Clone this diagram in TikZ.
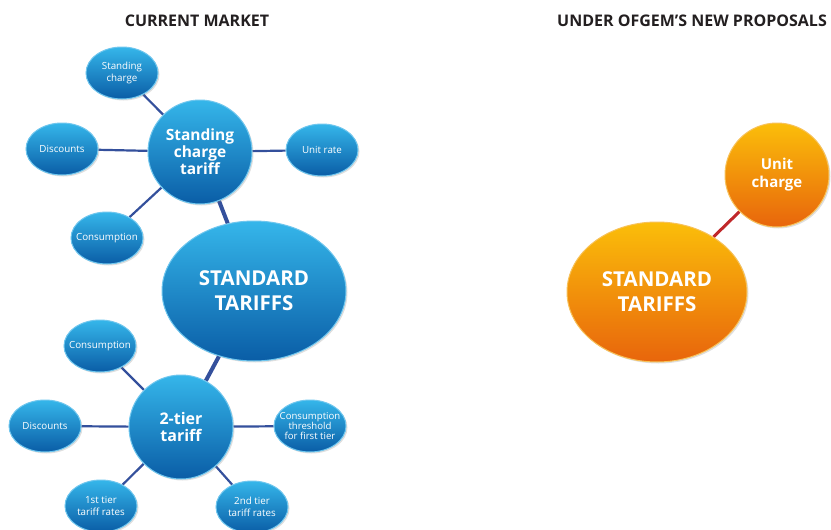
\documentclass[tikz,border=0pt]{standalone}
\usepackage{fontspec}
\setmainfont{Open Sans}
\usetikzlibrary{shapes.geometric,backgrounds,shadows}
\definecolor{btop}{HTML}{35B6EA}
\definecolor{bmid}{HTML}{1580C8}
\definecolor{bbot}{HTML}{0A5DA6}
\definecolor{bedge}{HTML}{6FC6EE}
\definecolor{blink}{HTML}{34509C}
\definecolor{otop}{HTML}{FBBE0A}
\definecolor{omid}{HTML}{EE7C0E}
\definecolor{obot}{HTML}{E8650C}
\definecolor{oedge}{HTML}{F7C25A}
\definecolor{olink}{HTML}{C0282A}
\definecolor{ttl}{HTML}{231F20}
\tikzset{
  bubble/.style={ellipse, inner sep=0pt, align=center, text=white,
    draw=bedge, line width=1pt, top color=btop, middle color=bmid, bottom color=bbot,
    drop shadow={opacity=0.25, shadow xshift=1.5pt, shadow yshift=-1.5pt}},
  small/.style={bubble, inner xsep=-10pt, inner ysep=-6pt, minimum width=72pt, minimum height=52pt, font=\fontsize{9.8}{12}\selectfont},
  mid/.style={bubble, minimum width=104pt, minimum height=104pt, font=\fontsize{15.5}{17}\selectfont\bfseries},
  big/.style={bubble, minimum width=184pt, minimum height=140pt, font=\fontsize{20.5}{25}\selectfont\bfseries},
  obubble/.style={draw=oedge, top color=otop, middle color=omid, bottom color=obot},
  link/.style={draw=blink, line width=2.2pt},
  thick link/.style={draw=blink, line width=4pt},
  olinkst/.style={draw=olink, line width=3pt},
  title/.style={font=\fontsize{16}{18}\selectfont\bfseries, text=ttl}
}
\begin{document}
\begin{tikzpicture}[x=1pt,y=-1pt]
\useasboundingbox (0,0) rectangle (831,530);
% titles
\node[title] (t1) at (197,21) {CURRENT MARKET};
\node[title] (t2) at (692,21) {UNDER OFGEM’S NEW PROPOSALS};
% upper cluster
\node[mid] (sct) at (200,152) {Standing\\charge\\tariff};
\node[small] (sc) at (122,73) {Standing\\charge};
\node[small] (d1) at (62,149) {Discounts};
\node[small] (ur) at (322,150) {Unit rate};
\node[small] (c1) at (107,238) {Consumption};
% standard tariffs
\node[big] (st) at (254,291) {STANDARD\\TARIFFS};
% lower cluster
\node[mid, font=\fontsize{16}{17}\selectfont\bfseries] (tt) at (181,427) {2-tier\\tariff};
\node[small] (c2) at (100,346) {Consumption};
\node[small] (d2) at (45,426) {Discounts};
\node[small, font=\fontsize{9.6}{10}\selectfont] (ct) at (310,426) {Consumption\\threshold\\for first tier};
\node[small] (t1r) at (101,506) {1st tier\\tariff rates};
\node[small] (t2r) at (252,507) {2nd tier\\tariff rates};
% right side
\node[big, obubble, minimum width=180pt] (ost) at (657,292) {STANDARD\\TARIFFS};
\node[mid, obubble, font=\fontsize{15}{18}\selectfont\bfseries] (uc) at (777,175) {Unit\\charge};
\begin{pgfonlayer}{background}
\draw[link] (sct) -- (sc);
\draw[link] (sct) -- (d1);
\draw[link] (sct) -- (ur);
\draw[link] (sct) -- (c1);
\draw[thick link] (sct) -- (st);
\draw[thick link] (tt) -- (st);
\draw[link] (tt) -- (c2);
\draw[link] (tt) -- (d2);
\draw[link] (tt) -- (ct);
\draw[link] (tt) -- (t1r);
\draw[link] (tt) -- (t2r);
\draw[olinkst] (ost) -- (uc);
\end{pgfonlayer}
\end{tikzpicture}
\end{document}
